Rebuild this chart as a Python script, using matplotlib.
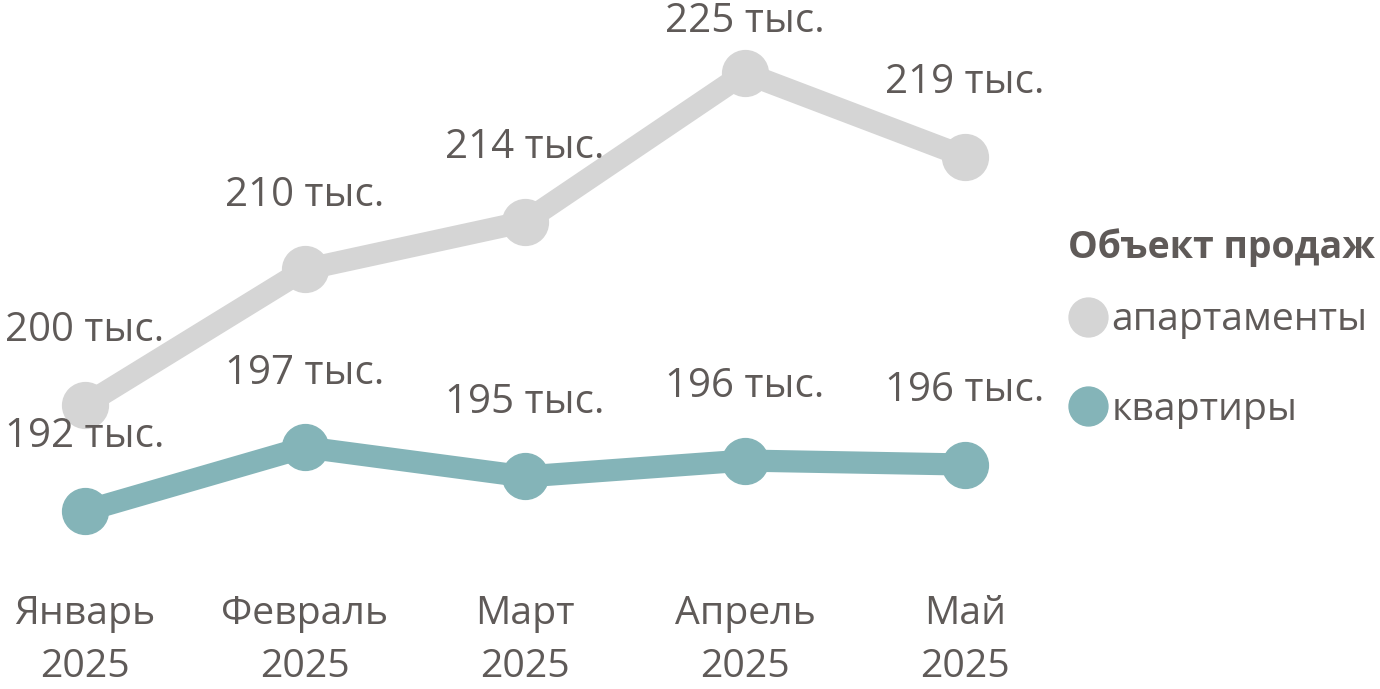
import matplotlib.pyplot as plt
from matplotlib.lines import Line2D

# data
months = ['Январь\n2025', 'Февраль\n2025', 'Март\n2025', 'Апрель\n2025', 'Май\n2025']
apart = [200.0, 210.2, 213.8, 225.0, 218.7]
kvart = [192.0, 196.8, 194.6, 195.8, 195.5]
series_names = ['апартаменты', 'квартиры']
legend_title = 'Объект продаж'

c_apart = '#d5d5d5'
c_kvart = '#84b4b8'
c_text = '#5f5a58'

plt.rcParams['font.family'] = ['Open Sans', 'DejaVu Sans']

fig = plt.figure(figsize=(13.8, 6.89), dpi=100)
ax = fig.add_axes([0, 109/689, 1, 580/689])
x = list(range(len(months)))
ax.set_xlim(-85/220, (1380-85)/220)
ax.set_ylim(186.8, 230.5)

for vals, col in [(apart, c_apart), (kvart, c_kvart)]:
    ax.plot(x, vals, color=col, lw=16, marker='o', ms=33, solid_capstyle='round', zorder=2)
    for xi, v in zip(x, vals):
        # label ~74px above marker, kept inside the figure
        ypx = ax.transData.transform((xi, v))[1]
        top = fig.bbox.height - 22
        off = min(74, top - ypx)
        ax.annotate(f'{v:.0f} тыс.', (xi, v), xytext=(0, off * 72 / fig.dpi),
                    textcoords='offset points', ha='center', va='center',
                    fontsize=29, color=c_text)

ax.set_xticks(x)
ax.set_xticklabels(months, fontsize=28.3, color=c_text, linespacing=1.5)
ax.tick_params(axis='x', length=0, pad=11)
ax.set_yticks([])
for s in ax.spines.values():
    s.set_visible(False)

# legend: title as separate text, entries below
fig.text(1068/1380, 1 - 248/689, legend_title, fontsize=27, fontweight='bold',
         color=c_text, ha='left', va='center')
handles = [Line2D([], [], ls='none', marker='o', ms=28, color=c) for c in (c_apart, c_kvart)]
leg = ax.legend(handles, series_names, loc='center left',
                bbox_to_anchor=(1076/1380, 1 - 365/580), frameon=False, fontsize=28.3,
                handlelength=0.6, handletextpad=0.3, labelspacing=1.3,
                borderaxespad=0, borderpad=0)
for t in leg.get_texts():
    t.set_color(c_text)

fig.savefig('out.png', dpi=100)
